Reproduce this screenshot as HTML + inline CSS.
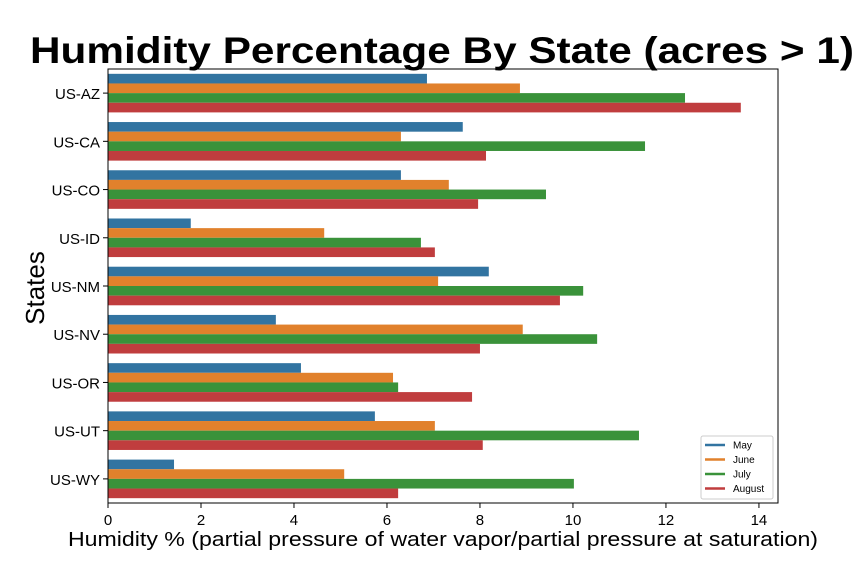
<!DOCTYPE html>
<html><head><meta charset="utf-8"><style>
body{margin:0;background:#fff;font-family:"Liberation Sans",sans-serif;}
svg text{font-family:"Liberation Sans",sans-serif;}
</style></head><body>
<svg id="c" width="864" height="576" xmlns="http://www.w3.org/2000/svg">
<text x="442" y="63" text-anchor="middle" font-size="37" font-weight="bold" textLength="824" lengthAdjust="spacingAndGlyphs">Humidity Percentage By State (acres &gt; 1)</text>
<text transform="translate(44,288) rotate(-90)" text-anchor="middle" font-size="26">States</text>
<text x="443" y="546" text-anchor="middle" font-size="20" textLength="750" lengthAdjust="spacingAndGlyphs">Humidity % (partial pressure of water vapor/partial pressure at saturation)</text>
<g id="bars"></g>
<g id="axes"></g>
</svg>
<script>
const states=["US-AZ","US-CA","US-CO","US-ID","US-NM","US-NV","US-OR","US-UT","US-WY"];
const seriesNames=["May","June","July","August"];
const may=[6.86,7.63,6.30,1.78,8.19,3.61,4.15,5.74,1.42];
const june=[8.86,6.30,7.33,4.65,7.10,8.92,6.13,7.03,5.08];
const july=[12.41,11.55,9.42,6.73,10.22,10.52,6.24,11.42,10.02];
const august=[13.61,8.13,7.96,7.03,9.72,8.0,7.83,8.06,6.24];
const xTicks=[0,2,4,6,8,10,12,14];
const colors=["#3274a1","#e1812c","#3a923a","#c03d3e"];
const ns="http://www.w3.org/2000/svg";
const L=108,R=778,T=69,B=503,xmax=14.41;
const x=v=>L+v/xmax*(R-L);
const band=(B-T)/states.length;
const bars=document.getElementById('bars'),axes=document.getElementById('axes');
function mk(t,a,p){const e=document.createElementNS(ns,t);for(const k in a)e.setAttribute(k,a[k]);p.appendChild(e);return e;}
const all=[may,june,july,august];
const bh=band*0.8/4;
states.forEach((s,i)=>{
 all.forEach((arr,j)=>{
  const r=mk('rect',{x:L,y:T+i*band+band*0.1+j*bh,width:x(arr[i])-L,height:bh,fill:colors[j]},bars);
  
  
 });
 const cy=T+(i+0.5)*band;
 const tk=mk('line',{x1:L-5,x2:L,y1:cy,y2:cy,stroke:'#000'},axes);
 
 
 const t=mk('text',{x:L-8,y:cy+6,'text-anchor':'end','font-size':15},axes);t.textContent=s;
 
 
});
xTicks.forEach(v=>{
 const tk=mk('line',{x1:x(v),x2:x(v),y1:B,y2:B+5,stroke:'#000'},axes);
 
 
 const t=mk('text',{x:x(v),y:B+22,'text-anchor':'middle','font-size':15},axes);t.textContent=v;
 
 
});
const fr=mk('rect',{x:L,y:T,width:R-L,height:B-T,fill:'none',stroke:'#000','stroke-width':1},axes);


const lg=mk('g',{},axes);


mk('rect',{x:701,y:436,width:72,height:63,fill:'#fff',stroke:'#ccc',rx:2},lg);
seriesNames.forEach((n,j)=>{
 const y=445+j*14.5;
 const g=mk('g',{},lg);
 
 
 mk('line',{x1:705,x2:725,y1:y,y2:y,stroke:colors[j],'stroke-width':2.5},g);
 const t=mk('text',{x:733,y:y+3.5,'font-size':10},g);t.textContent=n;
});
</script>
</body></html>
